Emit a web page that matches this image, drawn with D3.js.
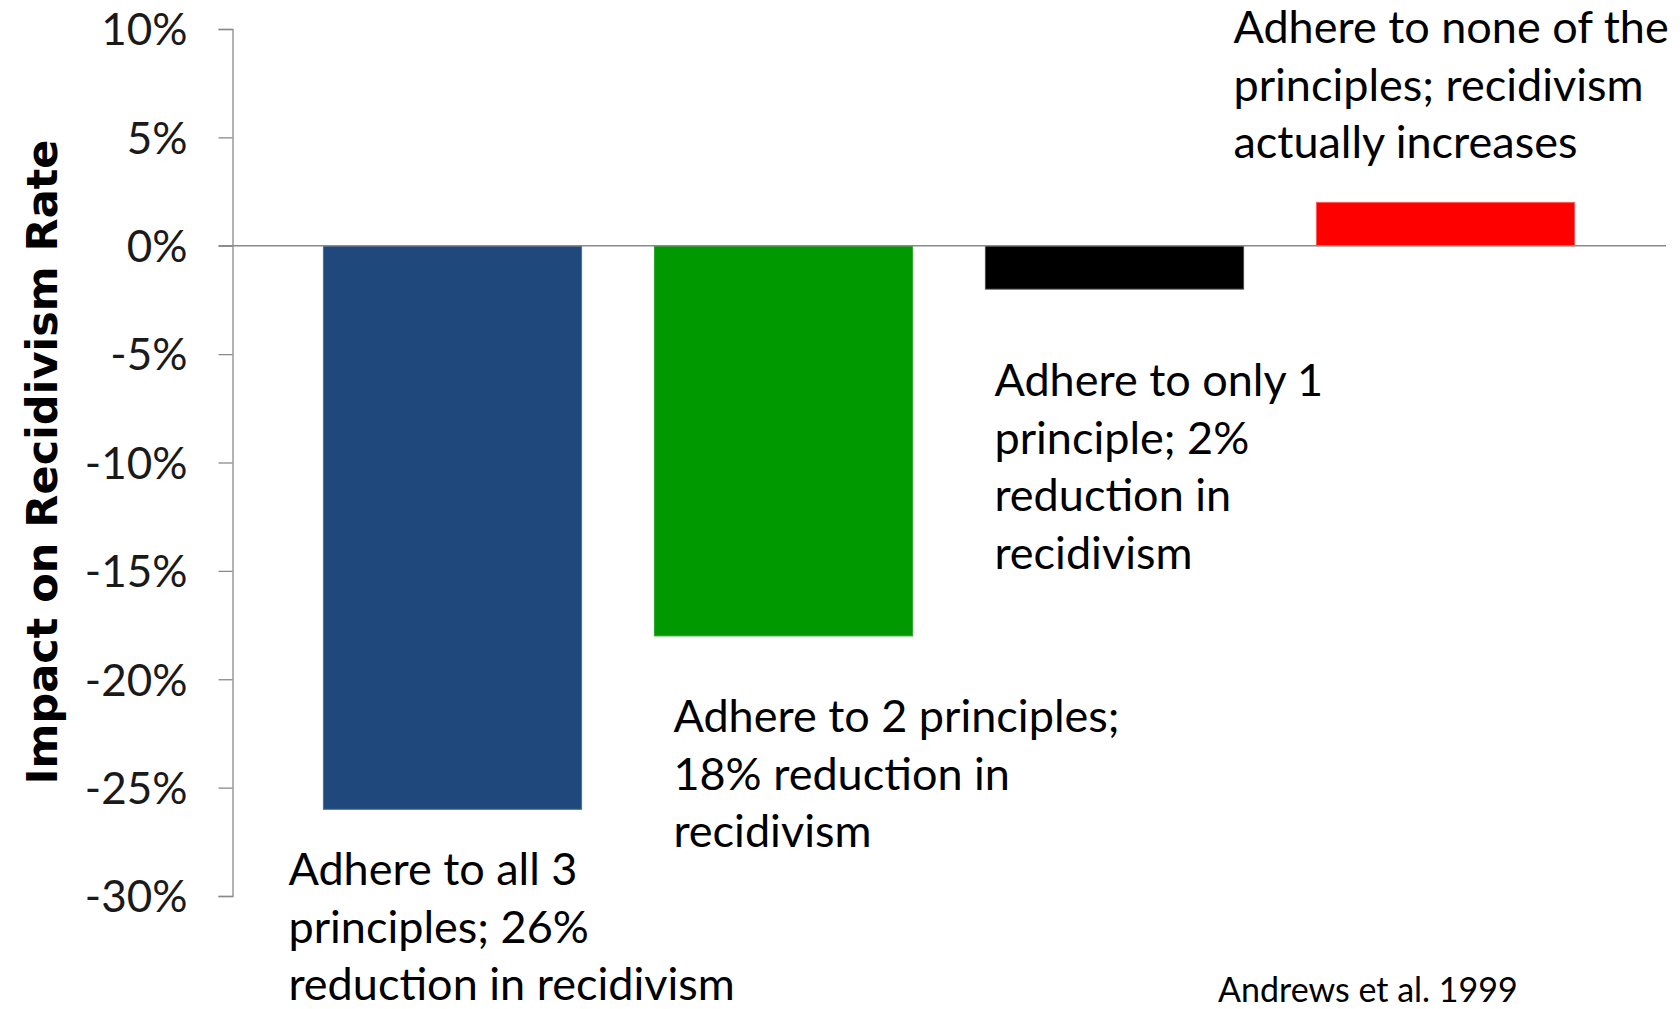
<!DOCTYPE html>
<html>
<head>
<meta charset="utf-8">
<script src="https://cdn.jsdelivr.net/npm/d3@7"></script>
<style>
  body { margin: 0; background: #fff; }
  svg { display: block; }
</style>
</head>
<body>
<div id="chart"></div>
<script>
// data
var categories = ['All 3 principles', '2 principles', 'Only 1 principle', 'None of the principles']
var values = [-0.26, -0.18, -0.02, 0.02]
var colors = ['#1F497D', '#009900', '#000000', '#FF0000']
var edges = ['#4A6E9E', '#2DA52D', '#4a4a4a', '#FF5A5A']
var yTicks = [0.10, 0.05, 0, -0.05, -0.10, -0.15, -0.20, -0.25, -0.30]
var notes = [
  ['Adhere to all 3', 'principles; 26%', 'reduction in recidivism'],
  ['Adhere to 2 principles;', '18% reduction in', 'recidivism'],
  ['Adhere to only 1', 'principle; 2%', 'reduction in', 'recidivism'],
  ['Adhere to none of the', 'principles; recidivism', 'actually increases']
]
var yTitle = 'Impact on Recidivism Rate'
var source = 'Andrews et al. 1999'

// layout
var W = 1680
var H = 1009
var AXIS_X = 232.5
var ZERO_END = 1666
var TICK = 14
var LINE_H = 57.5
var NOTE_DX = [-35, 19, 9, -83] // from left edge of each bar
var NOTE_Y = [885, 732, 396, 43] // first baseline
var BODY_FONT = "Lato, 'Open Sans', sans-serif"

var svg = d3.select('#chart').append('svg')
  .attr('width', W)
  .attr('height', H)

var x = d3.scaleBand()
  .domain(categories)
  .range([287, 1611])
  .paddingInner(0.22)
  .paddingOuter(0.11)

var y = d3.scaleLinear()
  .domain([-0.30, 0.10])
  .range([896, 29])

var pct = d3.formatLocale({
  decimal: '.', thousands: ',', grouping: [3], currency: ['', ''], minus: '-'
}).format('.0%')

// y axis
var yAxis = d3.axisLeft(y)
  .tickValues(yTicks)
  .tickSize(TICK)
  .tickPadding(31)
  .tickFormat(pct)

var gy = svg.append('g')
  .attr('transform', 'translate(' + AXIS_X + ',0)')
  .call(yAxis)

gy.select('.domain').attr('stroke', '#8a8a8a').attr('stroke-width', 1.3)
gy.selectAll('.tick line').attr('stroke', '#8a8a8a').attr('stroke-width', 1.3)
gy.selectAll('.tick text')
  .style('font-family', BODY_FONT)
  .attr('font-size', 44)
  .attr('fill', '#1a1a1a')
  .attr('dy', '0.36em')

// bars
svg.append('g').selectAll('rect')
  .data(values)
  .enter().append('rect')
  .attr('x', function (d, i) { return x(categories[i]) })
  .attr('width', x.bandwidth())
  .attr('y', function (d) { return y(Math.max(0, d)) })
  .attr('height', function (d) { return Math.abs(y(d) - y(0)) })
  .attr('fill', function (d, i) { return colors[i] })
  .attr('stroke', function (d, i) { return edges[i] })
  .attr('stroke-width', 1)

// zero line
svg.append('line')
  .attr('x1', AXIS_X - TICK)
  .attr('x2', ZERO_END)
  .attr('y1', y(0))
  .attr('y2', y(0))
  .attr('stroke', '#8a8a8a')
  .attr('stroke-width', 1.3)

// annotations
notes.forEach(function (lines, i) {
  var g = svg.append('g')
  lines.forEach(function (line, j) {
    g.append('text')
      .attr('x', x(categories[i]) + NOTE_DX[i])
      .attr('y', NOTE_Y[i] + j * LINE_H)
      .style('font-family', BODY_FONT)
      .attr('font-size', 45)
      .attr('fill', '#000')
      .text(line)
  })
})

// axis title
svg.append('text')
  .attr('transform', 'translate(57,' + 462 + ') rotate(-90)')
  .attr('text-anchor', 'middle')
  .style('font-family', "'DejaVu Sans', Verdana, sans-serif")
  .attr('font-weight', 'bold')
  .attr('font-size', 43)
  .attr('fill', '#000')
  .text(yTitle)

svg.append('text')
  .attr('x', 1218)
  .attr('y', 1002)
  .style('font-family', BODY_FONT)
  .attr('font-size', 34)
  .attr('fill', '#000')
  .text(source)
</script>
</body>
</html>
